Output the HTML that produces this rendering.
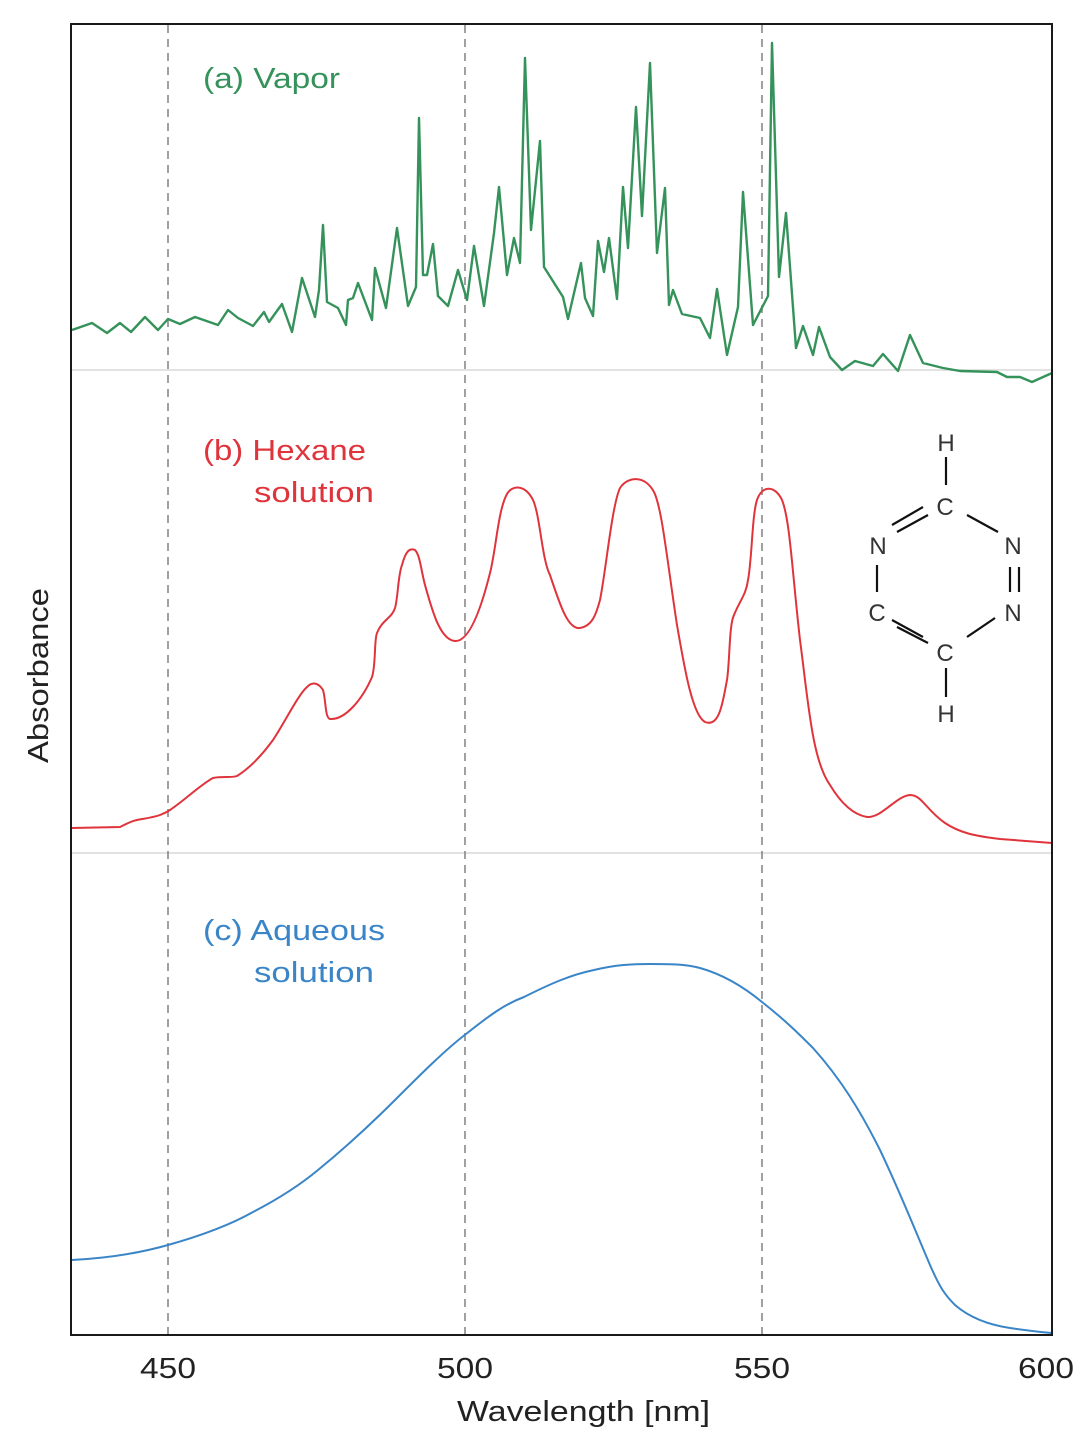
<!DOCTYPE html>
<html><head><meta charset="utf-8"><style>
html,body{margin:0;padding:0;background:#fff;}
svg{display:block;}
text{font-family:"Liberation Sans",sans-serif;}
</style></head><body>
<svg width="1090" height="1446" viewBox="0 0 1090 1446" xmlns="http://www.w3.org/2000/svg">
<rect width="1090" height="1446" fill="#fff"/>
<line x1="72" y1="370" x2="1052" y2="370" stroke="#e2e2e2" stroke-width="2"/>
<line x1="72" y1="853" x2="1052" y2="853" stroke="#e2e2e2" stroke-width="2"/>
<g stroke="#808080" stroke-width="1.5" stroke-dasharray="8,6">
<line x1="168" y1="25" x2="168" y2="1335"/>
<line x1="465" y1="25" x2="465" y2="1335"/>
<line x1="762" y1="25" x2="762" y2="1335"/>
</g>
<polyline fill="none" stroke="#35925a" stroke-width="2.4" stroke-linejoin="round" points="72,330 92,323 107,333 120,323 131,332 145,317 158,330 168,319 180,324 195,317 218,325 228,310 238,318 253,326 264,312 269,322 282,304 292,332 302,278 315,317 319,290 323,225 327,302 338,308 346,325 348,300 353,298 358,283 372,320 375,268 386,308 397,228 408,306 416,287 419,118 423,275 427,275 433,244 438,296 448,306 458,270 467,300 474,246 484,306 494,233 499,187 507,275 514,238 520,263 525,58 531,230 540,141 544,267 563,297 568,319 581,263 585,298 593,316 598,241 604,272 609,238 617,299 623,187 628,248 636,107 642,216 650,63 657,253 665,188 669,305 673,290 682,314 700,318 710,338 717,289 727,355 738,307 743,192 753,325 768,296 772,43 779,277 786,213 796,348 803,326 813,355 819,327 830,357 842,370 855,361 873,366 883,354 898,371 910,335 923,363 943,368 960,371 997,372 1007,377 1020,377 1032,382 1052,373"/>
<path fill="none" stroke="#e0343c" stroke-width="2" d="M72,828 L120,827 C128,823 132,821 137,820 C148,818 155,817 160,815 C165,813 167,812 170,810 C185,800 200,785 213,778 C222,776 232,778 237,776 C250,768 262,755 273,740 C285,722 298,695 307,687 C312,682 318,682 323,690 C326,700 325,718 330,719 C345,720 362,700 372,677 C376,665 374,640 377,633 C382,620 392,618 395,608 C398,598 398,575 402,565 C406,550 410,548 415,550 C420,555 421,570 425,585 C432,610 440,640 455,641 C470,642 482,605 490,573 C496,550 498,510 507,494 C512,485 525,484 533,500 C540,515 542,560 550,575 C560,605 568,630 580,628 C592,626 596,615 600,600 C606,570 612,505 620,488 C628,476 645,475 654,492 C662,508 667,560 677,625 C684,665 692,715 705,722 C720,728 723,700 727,680 C730,660 729,625 734,615 C740,600 746,595 748,580 C752,560 752,515 757,500 C762,485 775,485 782,500 C790,520 792,570 800,640 C808,700 812,760 830,785 C842,805 855,815 867,817 C882,818 896,796 910,795 C922,795 926,810 945,823 C960,833 975,836 1000,839 C1025,841 1040,842 1052,843"/>
<path fill="none" stroke="#3a85c8" stroke-width="2" d="M72,1260 C110,1258 140,1253 168,1245 C200,1236 230,1225 253,1212 C280,1198 300,1185 318,1170 C345,1148 370,1125 395,1100 C420,1075 445,1050 466,1034 C490,1015 505,1004 524,997 C550,984 570,975 594,970 C615,965 630,964 650,964 C670,964 685,964 700,968 C725,975 745,988 762,1002 C785,1020 800,1035 813,1048 C840,1078 860,1110 880,1150 C900,1192 915,1230 930,1265 C940,1288 945,1295 955,1305 C970,1318 990,1325 1010,1328 C1030,1331 1040,1332 1052,1333"/>
<rect x="71" y="24" width="981" height="1311" fill="none" stroke="#1a1a1a" stroke-width="2"/>
<g font-size="29">
<text x="203" y="88" fill="#35925a" textLength="137" lengthAdjust="spacingAndGlyphs">(a)  Vapor</text>
<text x="203" y="460" fill="#e0343c" textLength="163" lengthAdjust="spacingAndGlyphs">(b)  Hexane</text>
<text x="254" y="502" fill="#e0343c" textLength="120" lengthAdjust="spacingAndGlyphs">solution</text>
<text x="203" y="940" fill="#3a85c8" textLength="182" lengthAdjust="spacingAndGlyphs">(c)  Aqueous</text>
<text x="254" y="982" fill="#3a85c8" textLength="120" lengthAdjust="spacingAndGlyphs">solution</text>
</g>
<g font-size="29" fill="#222">
<text x="140" y="1378" textLength="56" lengthAdjust="spacingAndGlyphs">450</text>
<text x="437" y="1378" textLength="56" lengthAdjust="spacingAndGlyphs">500</text>
<text x="734" y="1378" textLength="56" lengthAdjust="spacingAndGlyphs">550</text>
<text x="1018" y="1378" textLength="56" lengthAdjust="spacingAndGlyphs">600</text>
<text x="457" y="1421" textLength="253" lengthAdjust="spacingAndGlyphs">Wavelength [nm]</text>
</g>
<text transform="translate(48,763) rotate(-90)" font-size="29" fill="#222" textLength="175" lengthAdjust="spacingAndGlyphs">Absorbance</text>
<g stroke="#111" stroke-width="2.2">
<line x1="946" y1="457" x2="946" y2="485"/>
<line x1="967" y1="515" x2="998" y2="532"/>
<line x1="1010" y1="567" x2="1010" y2="592"/>
<line x1="1019" y1="567" x2="1019" y2="592"/>
<line x1="995" y1="618" x2="967" y2="637"/>
<line x1="946" y1="668" x2="946" y2="697"/>
<line x1="892" y1="525" x2="923" y2="507"/>
<line x1="897" y1="532" x2="928" y2="515"/>
<line x1="877" y1="565" x2="877" y2="592"/>
<line x1="892" y1="620" x2="923" y2="637"/>
<line x1="897" y1="627" x2="928" y2="643"/>
</g>
<g font-size="24" fill="#333" text-anchor="middle">
<text x="946" y="451">H</text>
<text x="945" y="515">C</text>
<text x="1013" y="554">N</text>
<text x="1013" y="621">N</text>
<text x="945" y="661">C</text>
<text x="946" y="722">H</text>
<text x="878" y="554">N</text>
<text x="877" y="621">C</text>
</g>
</svg>
</body></html>
